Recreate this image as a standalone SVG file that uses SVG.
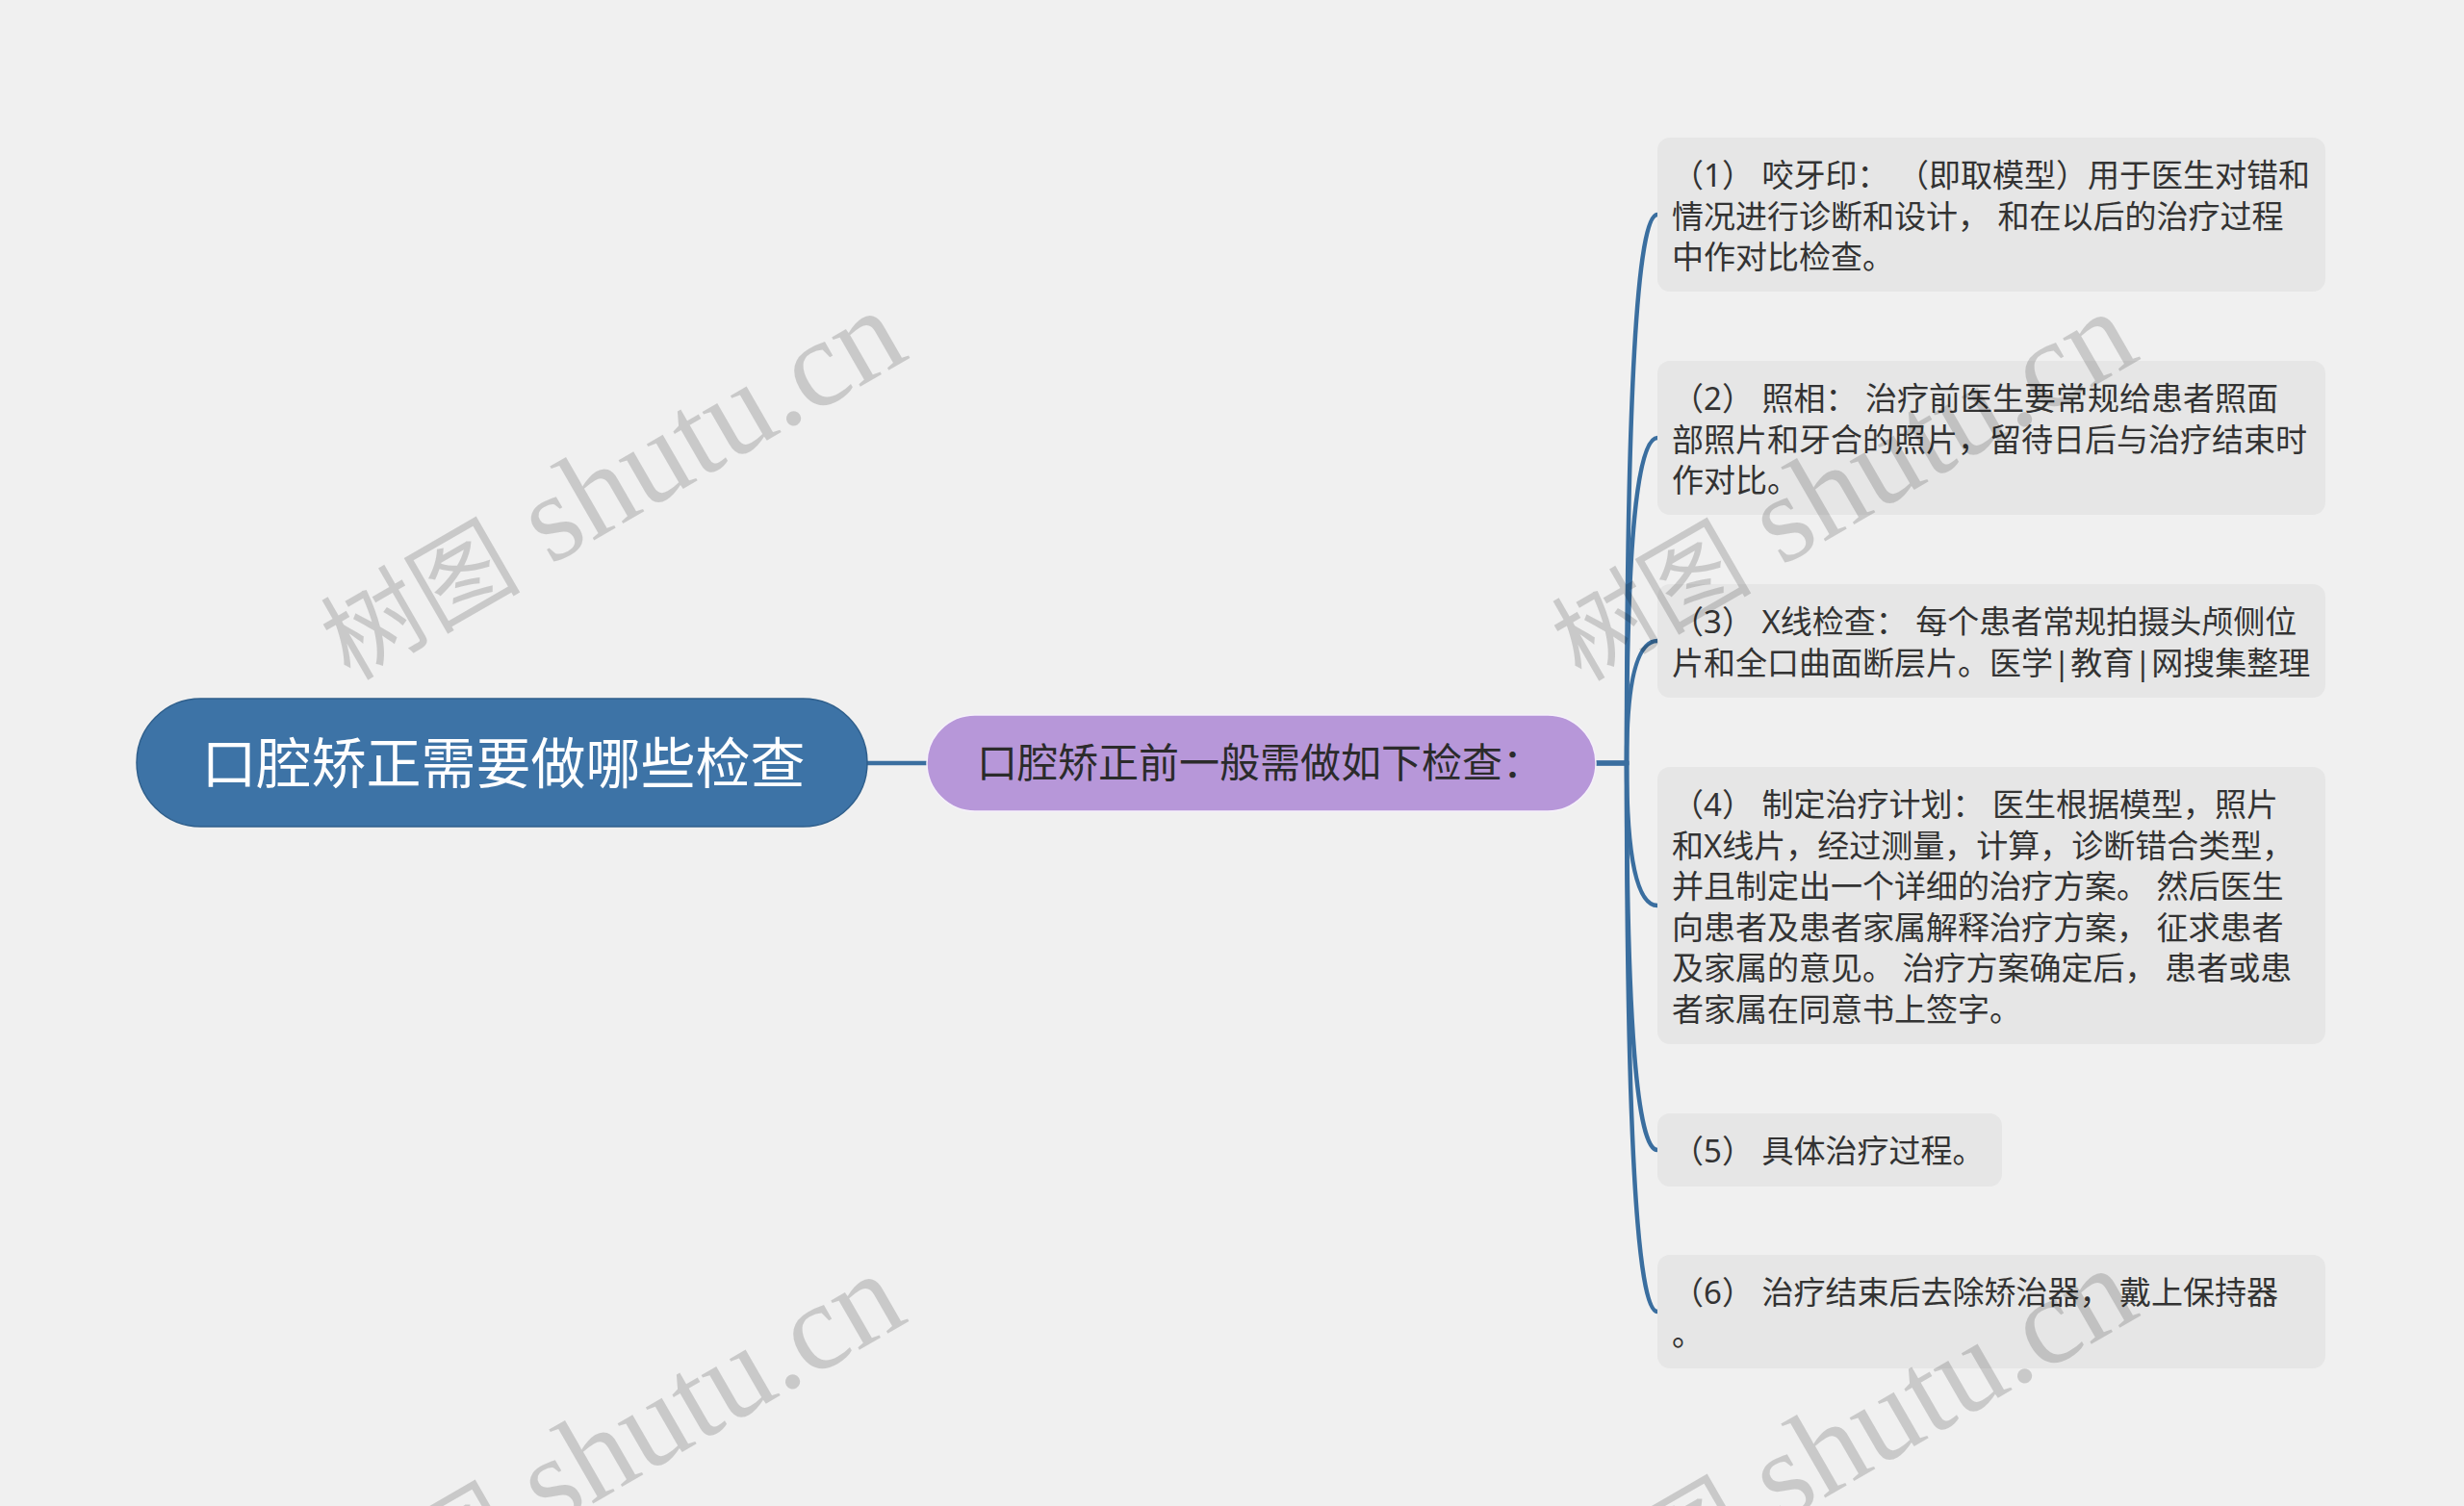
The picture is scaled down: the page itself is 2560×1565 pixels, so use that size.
<svg xmlns="http://www.w3.org/2000/svg" width="2560" height="1565" viewBox="0 0 2560 1565">
  <defs>
    <style>
      .bg { fill: #f0f0f0; }
      .conn { fill: none; stroke: #3a6e9f; stroke-width: 4.5; stroke-linecap: round; }
      .root-box { fill: #3d73a6; stroke: #2f5f8c; stroke-width: 1.5; }
      .mid-box { fill: #b797d9; stroke: #f5f0fa; stroke-width: 1.5; }
      .leaf-box { fill: #e6e6e6; }
      .root-text { font-family: "Noto Sans", "Noto Sans CJK SC", sans-serif; font-size: 57px; fill: #ffffff; }
      .mid-text { font-family: "Noto Sans", "Noto Sans CJK SC", sans-serif; font-size: 42px; fill: #2b2b2b; }
      .leaf-text { font-family: "Noto Sans", "Noto Sans CJK SC", sans-serif; font-size: 33px; fill: #333333; }
      .wm { font-family: "Liberation Serif", "Noto Sans CJK SC", serif; font-size: 129px; fill: #000000; fill-opacity: 0.16; }
      .wm-cjk { font-family: "Noto Sans CJK SC", sans-serif; font-size: 104px; }
    </style>
  </defs>

  <rect class="bg" x="0" y="0" width="2560" height="1565"/>

  <g id="connectors">
    <path class="conn" d="M901 793 L963 793"/>
    <path class="conn" d="M1658 793 L1690 793 Q1690 223 1722 223"/>
    <path class="conn" d="M1658 793 L1690 793 Q1690 455 1722 455"/>
    <path class="conn" d="M1658 793 L1690 793 Q1690 666 1722 666"/>
    <path class="conn" d="M1658 793 L1690 793 Q1690 941 1722 941"/>
    <path class="conn" d="M1658 793 L1690 793 Q1690 1195 1722 1195"/>
    <path class="conn" d="M1658 793 L1690 793 Q1690 1363 1722 1363"/>
  </g>

  <g id="root">
    <rect class="root-box" x="142" y="726" width="759" height="133" rx="66.5" ry="66.5"/>
    <text class="root-text" x="523" y="814" text-anchor="middle">口腔矫正需要做哪些检查</text>
  </g>

  <g id="middle">
    <rect class="mid-box" x="963" y="743" width="695" height="100" rx="50" ry="50"/>
    <text class="mid-text" x="1015" y="808">口腔矫正前一般需做如下检查：</text>
  </g>

  <g id="item1">
    <rect class="leaf-box" x="1722" y="143" width="694" height="160" rx="13" ry="13"/>
    <text class="leaf-text">
      <tspan x="1737" y="194">（1） 咬牙印： （即取模型）用于医生对错和</tspan>
      <tspan x="1737" y="236.5">情况进行诊断和设计， 和在以后的治疗过程</tspan>
      <tspan x="1737" y="279">中作对比检查。</tspan>
    </text>
  </g>

  <g id="item2">
    <rect class="leaf-box" x="1722" y="375" width="694" height="160" rx="13" ry="13"/>
    <text class="leaf-text">
      <tspan x="1737" y="426">（2） 照相： 治疗前医生要常规给患者照面</tspan>
      <tspan x="1737" y="468.5">部照片和牙合的照片，留待日后与治疗结束时</tspan>
      <tspan x="1737" y="511">作对比。</tspan>
    </text>
  </g>

  <g id="item3">
    <rect class="leaf-box" x="1722" y="607" width="694" height="118" rx="13" ry="13"/>
    <text class="leaf-text">
      <tspan x="1737" y="658">（3） X线检查： 每个患者常规拍摄头颅侧位</tspan>
      <tspan x="1737" y="700.5">片和全口曲面断层片。医学|教育|网搜集整理</tspan>
    </text>
  </g>

  <g id="item4">
    <rect class="leaf-box" x="1722" y="797" width="694" height="288" rx="13" ry="13"/>
    <text class="leaf-text">
      <tspan x="1737" y="848">（4） 制定治疗计划： 医生根据模型，照片</tspan>
      <tspan x="1737" y="890.5">和X线片，经过测量，计算，诊断错合类型，</tspan>
      <tspan x="1737" y="933">并且制定出一个详细的治疗方案。 然后医生</tspan>
      <tspan x="1737" y="975.5">向患者及患者家属解释治疗方案， 征求患者</tspan>
      <tspan x="1737" y="1018">及家属的意见。 治疗方案确定后， 患者或患</tspan>
      <tspan x="1737" y="1060.5">者家属在同意书上签字。</tspan>
    </text>
  </g>

  <g id="item5">
    <rect class="leaf-box" x="1722" y="1157" width="358" height="76" rx="13" ry="13"/>
    <text class="leaf-text">
      <tspan x="1737" y="1208">（5） 具体治疗过程。</tspan>
    </text>
  </g>

  <g id="item6">
    <rect class="leaf-box" x="1722" y="1304" width="694" height="118" rx="13" ry="13"/>
    <text class="leaf-text">
      <tspan x="1737" y="1355">（6） 治疗结束后去除矫治器， 戴上保持器</tspan>
      <tspan x="1737" y="1397.5">。</tspan>
    </text>
  </g>

  <g id="watermarks">
    <text class="wm" text-anchor="end" transform="translate(947 371) rotate(-30)"><tspan class="wm-cjk">树图</tspan> shutu.cn</text>
    <text class="wm" text-anchor="end" transform="translate(2226 372) rotate(-30)"><tspan class="wm-cjk">树图</tspan> shutu.cn</text>
    <text class="wm" text-anchor="end" transform="translate(946 1372) rotate(-30)"><tspan class="wm-cjk">树图</tspan> shutu.cn</text>
    <text class="wm" text-anchor="end" transform="translate(2226 1366) rotate(-30)"><tspan class="wm-cjk">树图</tspan> shutu.cn</text>
  </g>
</svg>
